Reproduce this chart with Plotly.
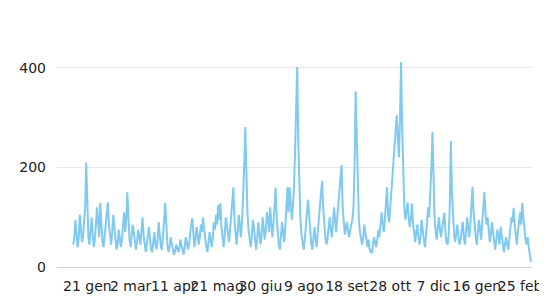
import pandas as pd
import plotly.graph_objects as go

start_date = "2019-01-08"
values = [
    45, 60, 95, 70, 40, 55, 105, 80, 50, 60,
    90, 120, 210, 110, 60, 45, 70, 100, 65, 40,
    55, 85, 120, 90, 60, 129, 75, 50, 40, 65,
    95, 110, 130, 85, 55, 45, 70, 105, 80, 50,
    35, 45, 75, 60, 40, 55, 90, 110, 70, 95,
    150, 90, 55, 40, 60, 85, 70, 45, 35, 50,
    75, 60, 45, 70, 100, 65, 40, 30, 45, 60,
    80, 55, 35, 30, 50, 70, 45, 35, 55, 90,
    65, 40, 35, 60, 95, 129, 70, 45, 30, 40,
    60, 50, 35, 25, 30, 45, 40, 30, 35, 55,
    45, 30, 25, 40, 60, 50, 35, 45, 70, 85,
    98, 60, 40, 55, 80, 65, 45, 60, 85, 70,
    100, 75, 50, 40, 30, 45, 70, 55, 40, 60,
    90, 75, 105, 85, 125, 95, 128, 80, 55, 40,
    65, 100, 85, 60, 50, 75, 110, 130, 160, 95,
    60, 45, 70, 105, 85, 60, 90, 140, 200, 281,
    180, 110, 75, 55, 40, 60, 95, 80, 50, 35,
    55, 90, 70, 45, 60, 100, 80, 55, 75, 110,
    95, 70, 120, 90, 60, 85, 130, 159, 100, 65,
    45, 35, 60, 90, 70, 50, 80, 125, 160, 110,
    160, 130, 95, 120, 160, 230, 330, 402, 250, 140,
    95, 65, 50, 35, 55, 90, 110, 135, 100, 70,
    45, 35, 60, 80, 55, 40, 70, 95, 120, 150,
    173, 120, 85, 60, 45, 55, 80, 100, 75, 60,
    85, 120, 95, 70, 100, 130, 150, 180, 205, 120,
    85, 65, 80, 90, 70, 60, 75, 85, 95, 120,
    200, 353, 250, 140, 95, 70, 55, 45, 60, 85,
    70, 50, 40, 55, 35, 30, 28, 45, 60, 50,
    40, 55, 75, 60, 90, 110, 85, 70, 95, 130,
    160, 105, 90, 120, 150, 180, 220, 250, 280, 305,
    260, 220, 300, 412, 280, 170, 120, 95, 110, 130,
    100, 80, 95, 128, 90, 65, 50, 70, 85, 60,
    45, 60, 95, 75, 55, 40, 60, 90, 120, 100,
    140, 200, 271, 150, 95, 70, 55, 80, 100, 75,
    60, 80, 95, 109, 70, 50, 45, 65, 120, 253,
    150, 90, 65, 50, 70, 85, 60, 45, 55, 75,
    91, 60, 45, 70, 100, 80, 60, 85, 120, 161,
    110, 80, 60, 45, 70, 95, 75, 55, 90, 130,
    151, 110, 85, 100, 75, 50, 65, 90, 70, 45,
    35, 55, 75, 60, 45, 81, 60, 40, 30, 45,
    60, 45, 35, 55, 80, 100, 90, 119, 85, 60,
    45, 70, 95, 110, 85, 129, 100, 70, 55, 45,
    60, 40, 20, 10,
]
dates = pd.date_range(start_date, periods=len(values), freq="D")

tick_dates = ["2019-01-21", "2019-03-02", "2019-04-11", "2019-05-21", "2019-06-30",
              "2019-08-09", "2019-09-18", "2019-10-28", "2019-12-07", "2020-01-16",
              "2020-02-25"]
tick_labels = ["21 gen", "2 mar", "11 apr", "21 mag", "30 giu", "9 ago",
               "18 set", "28 ott", "7 dic", "16 gen", "25 feb"]
y_ticks = [0, 200, 400]

fig = go.Figure()
fig.add_trace(go.Scatter(
    x=dates, y=values, mode="lines",
    line=dict(color="#80c9ef", width=2),
    hoverinfo="skip", showlegend=False,
))

fig.update_layout(
    width=539, height=288,
    margin=dict(l=49, r=15, t=45, b=29),
    paper_bgcolor="white", plot_bgcolor="white",
    font=dict(family="DejaVu Sans, sans-serif", size=14, color="#222222"),
    xaxis=dict(
        range=["2018-12-24", "2020-03-07"],
        tickvals=tick_dates, ticktext=tick_labels,
        showgrid=False, zeroline=False, showline=False,
        tickangle=0, ticks="", automargin=False,
        ticklabelstandoff=9,
        tickfont=dict(size=14, color="#222222"),
    ),
    yaxis=dict(
        range=[0, 430],
        tickvals=y_ticks,
        showgrid=True, gridcolor="#e8e8e8", gridwidth=1,
        zeroline=True, zerolinecolor="#d4d4d4", zerolinewidth=1,
        showline=False, ticks="", automargin=False,
        ticklabelstandoff=10,
        tickfont=dict(size=14, color="#222222"),
    ),
)

fig.write_html("out.html")
